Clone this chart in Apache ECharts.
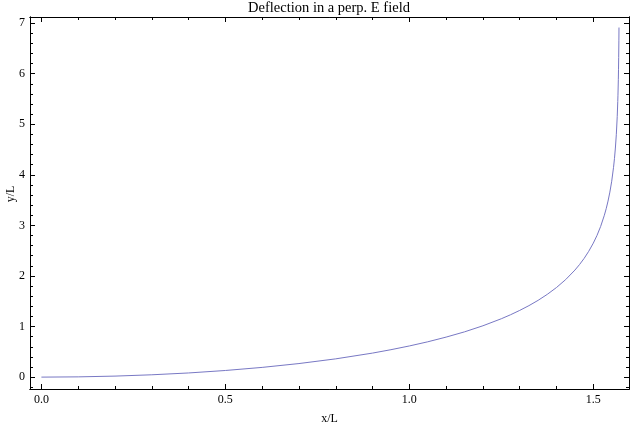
<!DOCTYPE html>
<html><head><meta charset="utf-8">
<script src="https://cdn.jsdelivr.net/npm/echarts@6/dist/echarts.min.js"></script>
<style>html,body{margin:0;padding:0;background:#fff}#c{width:632px;height:427px}</style>
</head><body><div id="c"></div>
<script>
const xValues = [0, 0.1, 0.2, 0.3, 0.4, 0.5, 0.6, 0.7, 0.8, 0.9, 0.95, 1.0, 1.05, 1.1, 1.15, 1.2, 1.25, 1.275, 1.3, 1.325, 1.35, 1.375, 1.4, 1.425, 1.45, 1.4625, 1.475, 1.4875, 1.5, 1.51, 1.52, 1.53, 1.535, 1.54, 1.545, 1.55, 1.555, 1.5575, 1.56, 1.5625, 1.565, 1.5665, 1.567, 1.568, 1.5685, 1.569, 1.5695, 1.5698];
const yValues = [0, 0.005, 0.020, 0.046, 0.082, 0.131, 0.192, 0.268, 0.361, 0.475, 0.542, 0.616, 0.698, 0.791, 0.895, 1.015, 1.154, 1.233, 1.319, 1.413, 1.518, 1.637, 1.772, 1.929, 2.116, 2.225, 2.347, 2.487, 2.649, 2.801, 2.980, 3.200, 3.330, 3.480, 3.658, 3.873, 4.148, 4.320, 4.529, 4.792, 5.150, 5.450, 5.574, 5.880, 6.077, 6.322, 6.648, 6.912];
const xMajor = [0, 0.5, 1.0, 1.5];
const xMinor = [0.1, 0.2, 0.3, 0.4, 0.6, 0.7, 0.8, 0.9, 1.1, 1.2, 1.3, 1.4];
const yMajor = [0, 1, 2, 3, 4, 5, 6, 7];
const yMinor = [-0.2, 0.2, 0.4, 0.6, 0.8, 1.2, 1.4, 1.6, 1.8, 2.2, 2.4, 2.6, 2.8, 3.2, 3.4, 3.6, 3.8, 4.2, 4.4, 4.6, 4.8, 5.2, 5.4, 5.6, 5.8, 6.2, 6.4, 6.6, 6.8];
const titleText = 'Deflection in a perp. E field';
const xName = 'x/L', yName = 'y/L';

const FONT = '"Liberation Serif", "DejaVu Serif", serif';
const XMIN = -0.031, XMAX = 1.597, YMIN = -0.235, YMAX = 7.12;

function xAx(pos, vals, len, labels) {
  return {
    type: 'value', position: pos, min: XMIN, max: XMAX,
    splitLine: {show: false},
    axisLine: {show: true, onZero: false, lineStyle: {color: '#000', width: 1}},
    axisTick: {show: true, inside: true, length: len, customValues: vals, lineStyle: {color: '#000'}},
    axisLabel: labels ? {show: true, customValues: vals, formatter: v => v.toFixed(1), fontFamily: FONT, fontSize: 12, color: '#000', margin: 5} : {show: false},
    name: labels ? xName : '', nameLocation: 'middle', nameGap: 24, nameMoveOverlap: false,
    nameTextStyle: {fontFamily: FONT, fontSize: 12, color: '#000'}
  };
}
function yAx(pos, vals, len, labels) {
  return {
    type: 'value', position: pos, min: YMIN, max: YMAX,
    splitLine: {show: false},
    axisLine: {show: true, onZero: false, lineStyle: {color: '#000', width: 1}},
    axisTick: {show: true, inside: true, length: len, customValues: vals, lineStyle: {color: '#000'}},
    axisLabel: labels ? {show: true, customValues: vals, formatter: v => String(Math.round(v)), fontFamily: FONT, fontSize: 12, color: '#000', margin: 5} : {show: false},
    name: labels ? yName : '', nameLocation: 'middle', nameGap: 13, nameRotate: 90, nameMoveOverlap: false,
    nameTextStyle: {fontFamily: FONT, fontSize: 12, color: '#000', padding: [0, 0, 0, 18]}
  };
}

const chart = echarts.init(document.getElementById('c'), null, {renderer: 'canvas'});
chart.setOption({
  animation: false,
  backgroundColor: '#fff',
  title: {text: titleText, left: 329, textAlign: 'center', top: 1, padding: 0, textStyle: {fontFamily: FONT, fontSize: 14.5, fontWeight: 'normal', color: '#000'}},
  grid: {left: 30, right: 3, top: 17, bottom: 38, containLabel: false, outerBoundsMode: 'none'},
  xAxis: [xAx('bottom', xMajor, 5, true), xAx('bottom', xMinor, 3, false), xAx('top', xMajor, 5, false), xAx('top', xMinor, 3, false)],
  yAxis: [yAx('left', yMajor, 5, true), yAx('left', yMinor, 3, false), yAx('right', yMajor, 5, false), yAx('right', yMinor, 3, false)],
  series: [{
    type: 'line', xAxisIndex: 0, yAxisIndex: 0,
    data: xValues.map((x, i) => [x, yValues[i]]),
    showSymbol: false, symbol: 'none',
    lineStyle: {color: '#7878c4', width: 1}
  }]
});
</script></body></html>
